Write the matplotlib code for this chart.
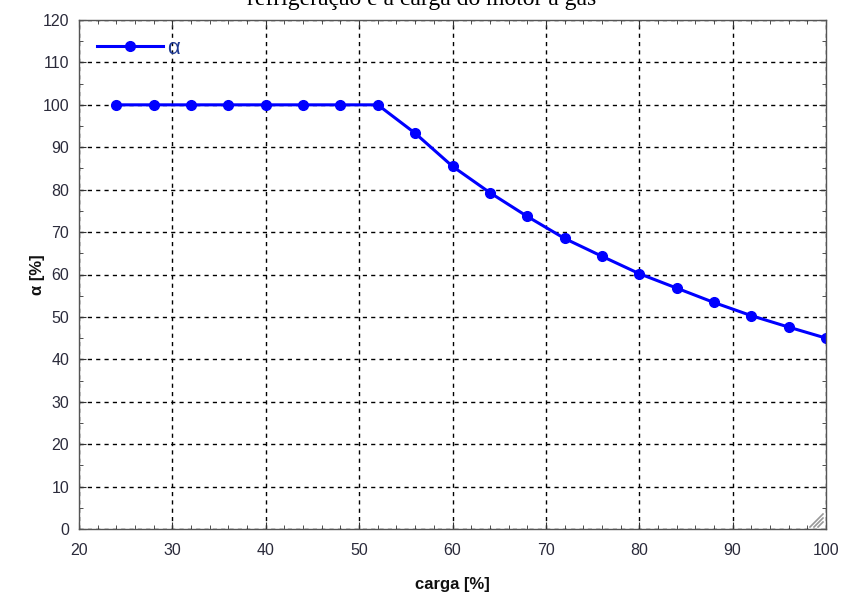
import numpy as np
import matplotlib.pyplot as plt
from matplotlib.ticker import MultipleLocator

# dados
carga = [24, 28, 32, 36, 40, 44, 48, 52, 56, 60, 64, 68, 72, 76, 80, 84, 88, 92, 96, 100]
alfa = [100, 100, 100, 100, 100, 100, 100, 100, 93.3, 85.5, 79.3, 73.7, 68.5, 64.3,
        60.2, 56.8, 53.4, 50.3, 47.6, 45.0]

titulo = "refrigeração e a carga do motor a gás"
tick_color = '#2b2b3b'

plt.rcParams['font.family'] = ['Liberation Sans', 'DejaVu Sans']

fig = plt.figure(figsize=(8.41, 5.98), dpi=100)
ax = fig.add_axes([79/841, 1 - 529/598, (826 - 79)/841, (529 - 20)/598])

ax.plot(carga, alfa, color='#0000ff', marker='o', markersize=7, linewidth=2.2, label='α')

ax.set_xlim(20, 100)
ax.set_ylim(0, 120)
ax.xaxis.set_major_locator(MultipleLocator(10))
ax.xaxis.set_minor_locator(MultipleLocator(2))
ax.yaxis.set_major_locator(MultipleLocator(10))
ax.yaxis.set_minor_locator(MultipleLocator(5))
ax.tick_params(which='both', direction='in', top=True, right=True, colors='#333333',
               labelcolor=tick_color, labelsize=11.5)
ax.tick_params(which='major', length=5)
ax.tick_params(which='minor', length=3)
ax.tick_params(axis='x', pad=10)
ax.tick_params(axis='y', pad=7)

ax.grid(True, which='major', color='black', linestyle=(0, (3, 3)), linewidth=1)
for s in ax.spines.values():
    s.set_color('#555555')
    s.set_linewidth(1)

# marca de redimensionamento no canto inferior direito
w, h = 747.0, 509.0
for a in (5, 9, 13):
    ax.plot([1 - (a + 3) / w, 1 - 3 / w], [2 / h, (a + 2) / h], transform=ax.transAxes,
            color='#999999', linewidth=1.2, clip_on=False)

ax.set_xlabel('carga [%]', fontsize=12, fontweight='bold', color='#111111', labelpad=14)
ax.set_ylabel('α [%]', fontsize=12, fontweight='bold', color='#111111', labelpad=-2)

leg = ax.legend(loc='upper left', frameon=False, fontsize=16, handlelength=3.0,
                handletextpad=0.15, borderaxespad=0.4)
for t in leg.get_texts():
    t.set_color('#1f3a93')

fig.text(422/841, 1 - 5/598, titulo, ha='center', va='baseline',
         fontsize=17, family=['Liberation Serif', 'DejaVu Serif'])

fig.savefig('out.png', dpi=100)
